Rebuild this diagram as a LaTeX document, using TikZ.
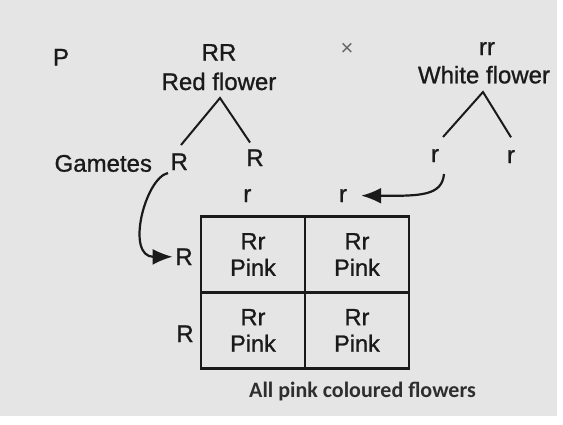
\documentclass[tikz,border=0pt]{standalone}
\usepackage{fontspec}
\setmainfont{Liberation Sans}
\newfontfamily\scanfont[RawFeature={embolden=1.0}]{Liberation Sans}
\newfontfamily\capfont{Carlito}
\usetikzlibrary{arrows.meta}
\definecolor{bggray}{HTML}{E5E5E5}
\definecolor{ink}{HTML}{1A1A1A}
\definecolor{capink}{HTML}{2E2E2E}
\definecolor{crossink}{HTML}{666666}
\begin{document}
\begin{tikzpicture}[x=1pt,y=-1pt,
  lab/.style={font=\scanfont\fontsize{24}{27}\selectfont, text=ink, inner sep=0pt, anchor=base},
  cell/.style={draw=ink, line width=2.2pt, minimum width=104pt, minimum height=76pt,
    align=center, font=\scanfont\fontsize{23.5}{26.5}\selectfont, text=ink, inner sep=0pt},
  treeline/.style={draw=ink, line width=2pt},
  arr/.style={draw=ink, line width=2.2pt, -{Latex[length=20pt,width=16pt]}}]
\useasboundingbox (0,0) rectangle (563,424);
\fill[white] (0,0) rectangle (563,424);
\fill[bggray] (0,0) rectangle (557,416);

% parents
\node[lab] (P) at (61,65.5) {P};
\node[lab] (RR) at (219,60.7) {RR};
\node[lab] (red) at (219,90) {Red flower};
\node[font=\fontsize{22}{24}\selectfont, text=crossink, inner sep=0pt] (cross) at (347,49) {×};
\node[lab] (rr) at (487,55) {rr};
\node[lab] (white) at (484,83.3) {White flower};

% tree lines
\coordinate (redtop) at (220,98);
\coordinate (redL) at (181,145);
\coordinate (redR) at (250,142.5);
\coordinate (whitetop) at (483,92);
\coordinate (whiteL) at (443,137);
\coordinate (whiteR) at (511,137.3);
\draw[treeline] (redL) -- (redtop) -- (redR);
\draw[treeline] (whiteL) -- (whitetop) -- (whiteR);

% gametes
\node[lab] (gam) at (103.3,171.7) {Gametes};
\node[lab] (gR1) at (179.3,170) {R};
\node[lab] (gR2) at (255,166) {R};
\node[lab] (gr1) at (435,162) {r};
\node[lab] (gr2) at (511,163) {r};

% Punnett square headers
\node[lab] (top1) at (247.3,202) {r};
\node[lab] (top2) at (343,202) {r};
\node[lab] (side1) at (184,265) {R};
\node[lab] (side2) at (185,342) {R};

% cells
\node[cell] (c11) at (253,254.5) {Rr\\Pink};
\node[cell] (c12) at (357,254.5) {Rr\\Pink};
\node[cell] (c21) at (253,330.4) {Rr\\Pink};
\node[cell] (c22) at (357,330.4) {Rr\\Pink};

% arrows
\coordinate (tailL) at (168,173);
\coordinate (tailR) at (444,174);
\draw[arr, shorten >=2.5pt] (tailL) .. controls (145,178) and (125,257) .. (side1.west);
\draw[arr, shorten >=14pt] (tailR) .. controls (442,196) and (420,196) .. (top2.east);

% caption
\node[font=\capfont\bfseries\fontsize{22}{26}\selectfont, text=capink, inner sep=0pt, anchor=base]
  (caption) at (362.5,397) {All pink coloured flowers};
\end{tikzpicture}
\end{document}
